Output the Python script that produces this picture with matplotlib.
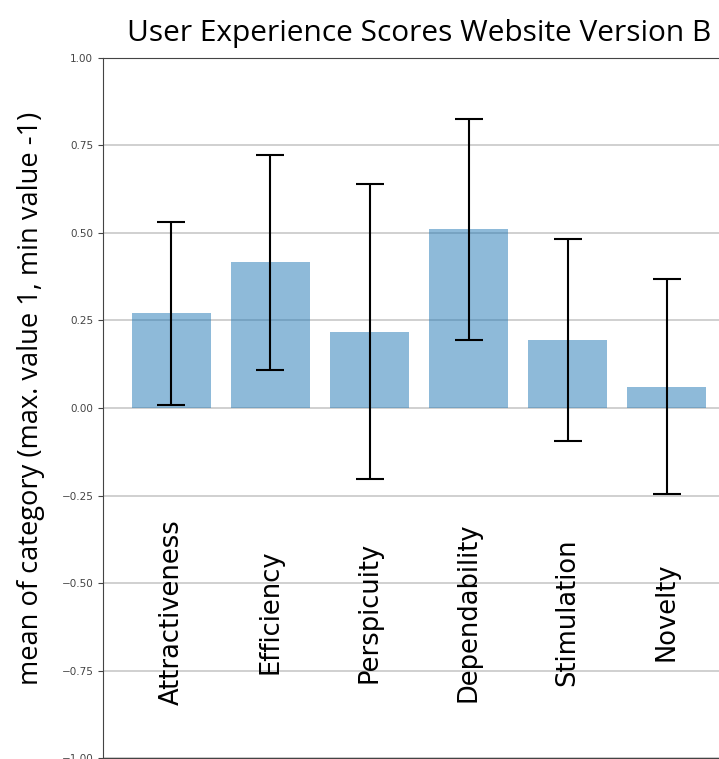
import numpy as np
import matplotlib
matplotlib.use("Agg")
import matplotlib.pyplot as plt

# UEQ category means and error (confidence interval half-width)
categories = ['Attractiveness', 'Efficiency', 'Perspicuity', 'Dependability', 'Stimulation', 'Novelty']
means = [0.271, 0.416, 0.218, 0.510, 0.195, 0.061]
errors = [0.261, 0.307, 0.422, 0.315, 0.288, 0.307]

fig = plt.figure(figsize=(7.19, 7.59), dpi=100)
ax = fig.add_axes([0.1433, 0.0013, 0.879, 0.9223])

x = np.arange(len(categories))
ax.bar(x, means, yerr=errors, align='center', alpha=0.5, color='tab:blue',
       ecolor='black', capsize=10, error_kw={'elinewidth': 1.5, 'capthick': 1.5})
ax.set_ylim(-1, 1)
ax.set_yticks([-1, -0.75, -0.5, -0.25, 0, 0.25, 0.5, 0.75, 1])
ax.set_yticklabels(['−1.00', '−0.75', '−0.50', '−0.25', '0.00', '0.25', '0.50', '0.75', '1.00'])
ax.tick_params(axis='y', labelsize=7.5, colors='#444444')
ax.set_xticks(x)
ax.set_xticklabels([])
ax.yaxis.grid(True, color='#c8c8c8', linewidth=1.2)
ax.set_axisbelow(True)
ax.spines['right'].set_visible(False)
for s in ['left', 'top', 'bottom']:
    ax.spines[s].set_color('#444444')

# category names written inside the plot, rotated
for i, name in enumerate(categories):
    ax.text(i, -0.583, name, rotation=90, ha='center', va='center', fontsize=18.5,
            family='DejaVu Sans')

ax.set_ylabel('mean of category (max. value 1, min value -1)', family='Open Sans',
              fontsize=19.6)
ax.yaxis.set_label_coords(-0.092, 0.514)
ax.set_title('User Experience Scores Website Version B', family='Open Sans',
             fontsize=21.5, pad=12)

fig.savefig('out.png', dpi=100)
